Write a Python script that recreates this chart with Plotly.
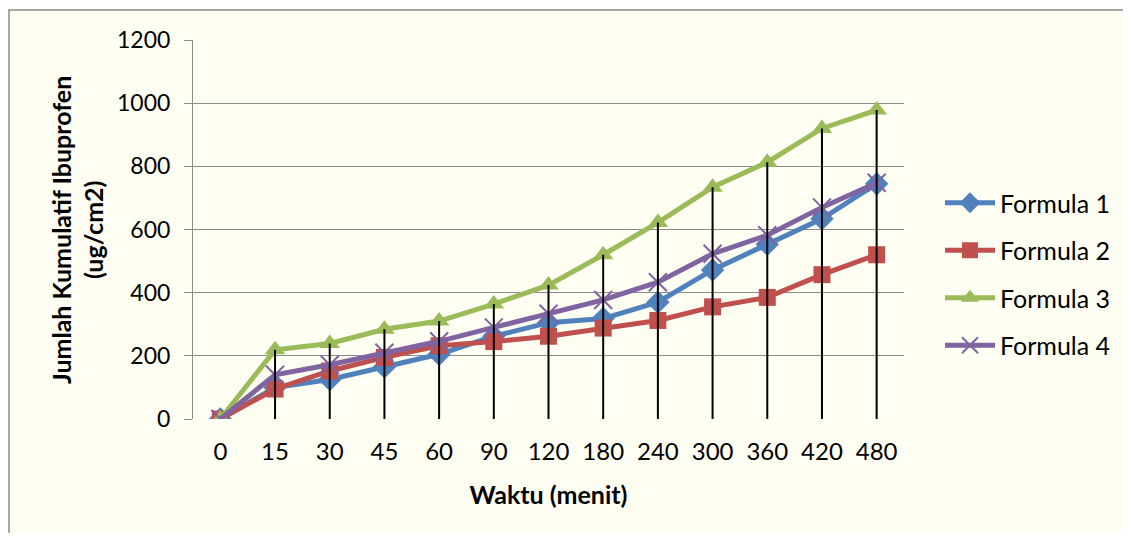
import plotly.graph_objects as go

categories = ["0", "15", "30", "45", "60", "90", "120", "180", "240", "300", "360", "420", "480"]
formula1 = [0, 100, 125, 165, 205, 262, 305, 318, 370, 472, 553, 634, 745]
formula2 = [0, 95, 152, 195, 232, 245, 262, 288, 312, 355, 385, 457, 520]
formula3 = [0, 219, 239, 284, 310, 364, 424, 520, 622, 734, 813, 920, 978]
formula4 = [0, 140, 172, 210, 246, 290, 333, 377, 433, 523, 582, 670, 748]
series_names = ["Formula 1", "Formula 2", "Formula 3", "Formula 4"]
y_ticks = [0, 200, 400, 600, 800, 1000, 1200]
y_title_lines = ["Jumlah Kumulatif Ibuprofen", "(ug/cm2)"]

colors = ["#4F81BD", "#C0504D", "#9BBB59", "#8064A2"]
symbols = ["diamond", "square", "triangle-up", "x-thin"]
data = [formula1, formula2, formula3, formula4]

FONT = "Lato"
fig = go.Figure()
for i, (name, vals) in enumerate(zip(series_names, data)):
    if symbols[i] == "x-thin":
        marker = dict(symbol="x-thin", size=18, line=dict(color=colors[i], width=2), color=colors[i])
    else:
        marker = dict(symbol=symbols[i], size=18 if symbols[i] != "square" else 17, color=colors[i])
    fig.add_trace(go.Scatter(
        x=categories, y=vals, name=name, mode="lines+markers",
        line=dict(color=colors[i], width=5), marker=marker,
        legendgroup=name,
    ))

# drop lines from the highest series down to the axis
fig.add_trace(go.Scatter(
    x=categories, y=[0] * len(categories), mode="markers",
    marker=dict(size=0.1, color="rgba(0,0,0,0)"), showlegend=False, hoverinfo="skip",
    error_y=dict(type="data", symmetric=False, array=formula3,
                 arrayminus=[0] * len(categories), color="black", thickness=2, width=0),
))

# page has an 8px body margin; figure is sized to fit inside without scrollbars
W, H = 1115, 525
L, T = 185, 32
R = W - 896
B = H - 411
pw, ph = W - L - R, H - T - B

fig.add_shape(type="rect", xref="paper", yref="paper",
              x0=(1 - L) / pw, x1=(W + 20 - L) / pw,
              y0=-(H + 20 - T - ph) / ph, y1=1 + (T - 2) / ph,
              line=dict(color="#8c8c8c", width=1.5), fillcolor="#fefef2", layer="below")

# y-axis title, two rotated lines
for txt, fx in zip(y_title_lines, [53, 85]):
    fig.add_annotation(text=f"<b>{txt}</b>", xref="paper", yref="paper",
                       x=(fx - L) / pw, y=1 - (222 - T) / ph, textangle=-90,
                       showarrow=False, xanchor="center", yanchor="middle",
                       font=dict(family=FONT, size=25, color="black"))

fig.update_layout(
    width=W, height=H,
    margin=dict(l=L, r=R, t=T, b=B, autoexpand=False),
    paper_bgcolor="white", plot_bgcolor="#fefef2",
    font=dict(family=FONT, size=22, color="black"),
    showlegend=True,
    legend=dict(xref="container", yref="container", x=932 / W, y=1 - 172 / H,
                xanchor="left", yanchor="top", bgcolor="rgba(0,0,0,0)",
                font=dict(family=FONT, size=25), tracegroupgap=12, itemwidth=50),
    xaxis=dict(type="category", range=[-0.5, len(categories) - 0.5],
               showgrid=False, showline=False, ticks="",
               tickfont=dict(size=24), ticklabelstandoff=16, automargin=False,
               title=dict(text="<b>Waktu (menit)</b>", font=dict(size=25), standoff=22),
               zeroline=False),
    yaxis=dict(range=[0, 1200], tickvals=y_ticks, showgrid=True, gridcolor="#8c8c8c",
               gridwidth=1, showline=True, linecolor="#8c8c8c", linewidth=1,
               ticks="outside", ticklen=8, tickcolor="#8c8c8c", tickfont=dict(size=23),
               ticklabelstandoff=9, zeroline=False, automargin=False),
)

fig.write_html("out.html")
